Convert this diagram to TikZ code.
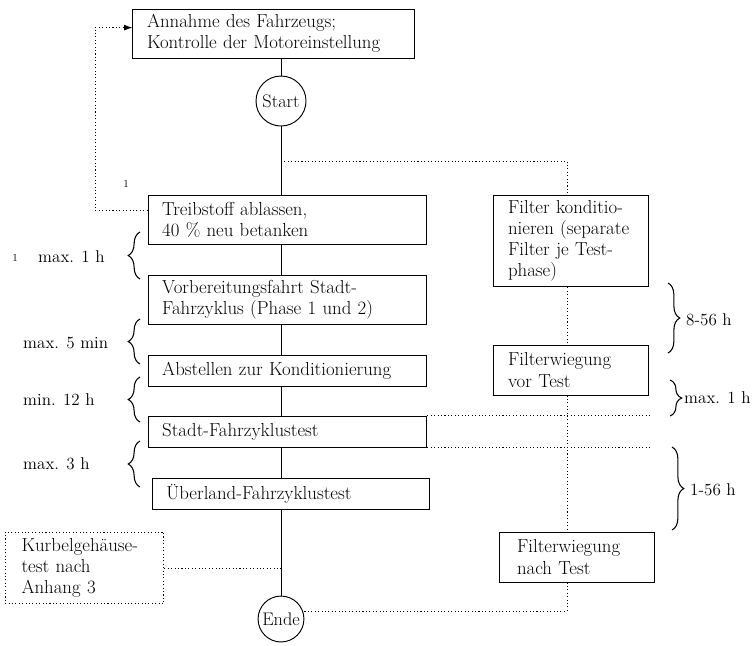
\documentclass[tikz,border=0pt]{standalone}
\usepackage{fontspec}
\usetikzlibrary{arrows.meta,decorations.pathreplacing}
\tikzset{
  flowbox/.style={draw, line width=0.8pt, align=left, inner xsep=12pt, inner ysep=2pt, text width=#1, font=\fontsize{16}{18}\selectfont},
  sidebox/.style={flowbox=#1, dash pattern=on 0.9pt off 2pt},
  endpoint/.style={draw, circle, line width=0.8pt, inner sep=0.5pt, font=\fontsize{15.5}{17}\selectfont},
  flow/.style={line width=0.8pt},
  aux/.style={line width=0.8pt, dash pattern=on 0.9pt off 2pt},
  lbrace/.style={decorate, decoration={brace, amplitude=10pt}, line width=0.9pt},
  tlabel/.style={anchor=west, inner sep=0pt},
  fnote/.style={inner sep=0pt, font=\fontsize{9}{10}\selectfont},
}
\begin{document}
\begin{tikzpicture}[x=0.85pt, y=-0.85pt, font=\fontsize{14.5}{17}\selectfont]
  \useasboundingbox (0,0) rectangle (753,645);
  % main column
  \node[flowbox=215pt, minimum height=41.6pt] (annahme) at (273.5,33.5) {Annahme des Fahrzeugs;\\Kontrolle der Motoreinstellung};
  \node[endpoint, minimum size=42.5pt] (start) at (281,101) {Start};
  \node[flowbox=213pt, minimum height=41.6pt] (treib) at (287.5,219.5) {Treibstoff ablassen,\\40 \% neu betanken};
  \node[flowbox=213pt, minimum height=41.6pt] (vorb) at (287.5,299.5) {Vorbereitungsfahrt Stadt-\\Fahrzyklus (Phase 1 und 2)};
  \node[flowbox=213pt, minimum height=26.4pt] (abst) at (287.5,370.5) {Abstellen zur Konditionierung};
  \node[flowbox=213pt, minimum height=26.4pt] (stadt) at (287.5,431.5) {Stadt-Fahrzyklustest};
  \node[flowbox=212pt, minimum height=26.4pt] (ueber) at (291,493.5) {Überland-Fahrzyklustest};
  \node[sidebox=107pt, inner xsep=14pt, minimum height=61pt] (kurbel) at (84.5,568) {Kurbelgehäuse-\\test nach\\Anhang 3};
  \node[endpoint, minimum size=39pt] (ende) at (281,619) {Ende};
  % filter column
  \node[flowbox=107pt, minimum height=78pt] (filt) at (571,241) {Filter konditio-\\nieren (separate\\Filter je Test-\\phase)};
  \node[flowbox=107pt, minimum height=42.5pt] (fvor) at (571,370) {Filterwiegung\\vor Test};
  \node[flowbox=102pt, inner xsep=15pt, minimum height=42.5pt] (fnach) at (577,557) {Filterwiegung\\nach Test};

  \coordinate (fork) at (281,161);
  \coordinate (fcol) at (567,161);
  \coordinate (back) at (95,210);
  \coordinate (sright) at (650,431.5);

  \begin{scope}[flow]
    \draw (annahme.south -| start) -- (start.north);
    \draw (start.south) -- (start |- treib.north);
    \foreach \a/\b in {treib/vorb, vorb/abst, abst/stadt, stadt/ueber}
      \draw (start |- \a.south) -- (start |- \b.north);
    \draw (start |- ueber.south) -- (ende.north);
  \end{scope}

  \begin{scope}[aux]
    \draw (fork) -- (fcol) -- (fcol |- filt.north);
    \draw (fcol |- filt.south) -- (fcol |- fvor.north);
    \draw (fcol |- fvor.south) -- (fcol |- fnach.north);
    \draw (fcol |- fnach.south) |- (ende.20);
    \draw[-{Latex[length=7pt,width=5pt]}] (treib.west |- back) -- (back) |- ([yshift=5pt]annahme.west);
    \draw (stadt.north east) -- (stadt.north east -| sright);
    \draw (stadt.south east) -- (stadt.south east -| sright);
    \draw (kurbel.east) -- (kurbel.east -| start);
  \end{scope}

  % time spans
  \draw[lbrace] (140,279) -- (140,232);
  \draw[lbrace] (140,364) -- (140,319);
  \draw[lbrace] (140,422) -- (140,377);
  \draw[lbrace] (140,487) -- (140,441);
  \draw[lbrace] (668,283) -- (668,353);
  \draw[lbrace] (670,380) -- (670,416);
  \draw[lbrace] (672,447) -- (672,530);

  \node[fnote] (note) at (126,184) {1};
  \node[fnote] (notel) at (15,258) {1};
  \node[tlabel] (t1) at (38,257) {max. 1 h};
  \node[tlabel] (t2) at (23,343) {max. 5 min};
  \node[tlabel] (t3) at (23,400) {min. 12 h};
  \node[tlabel] (t4) at (23,464) {max. 3 h};
  \node[tlabel] (t5) at (686,320) {8-56 h};
  \node[tlabel] (t6) at (684,398) {max. 1 h};
  \node[tlabel] (t7) at (690,490) {1-56 h};
\end{tikzpicture}
\end{document}
